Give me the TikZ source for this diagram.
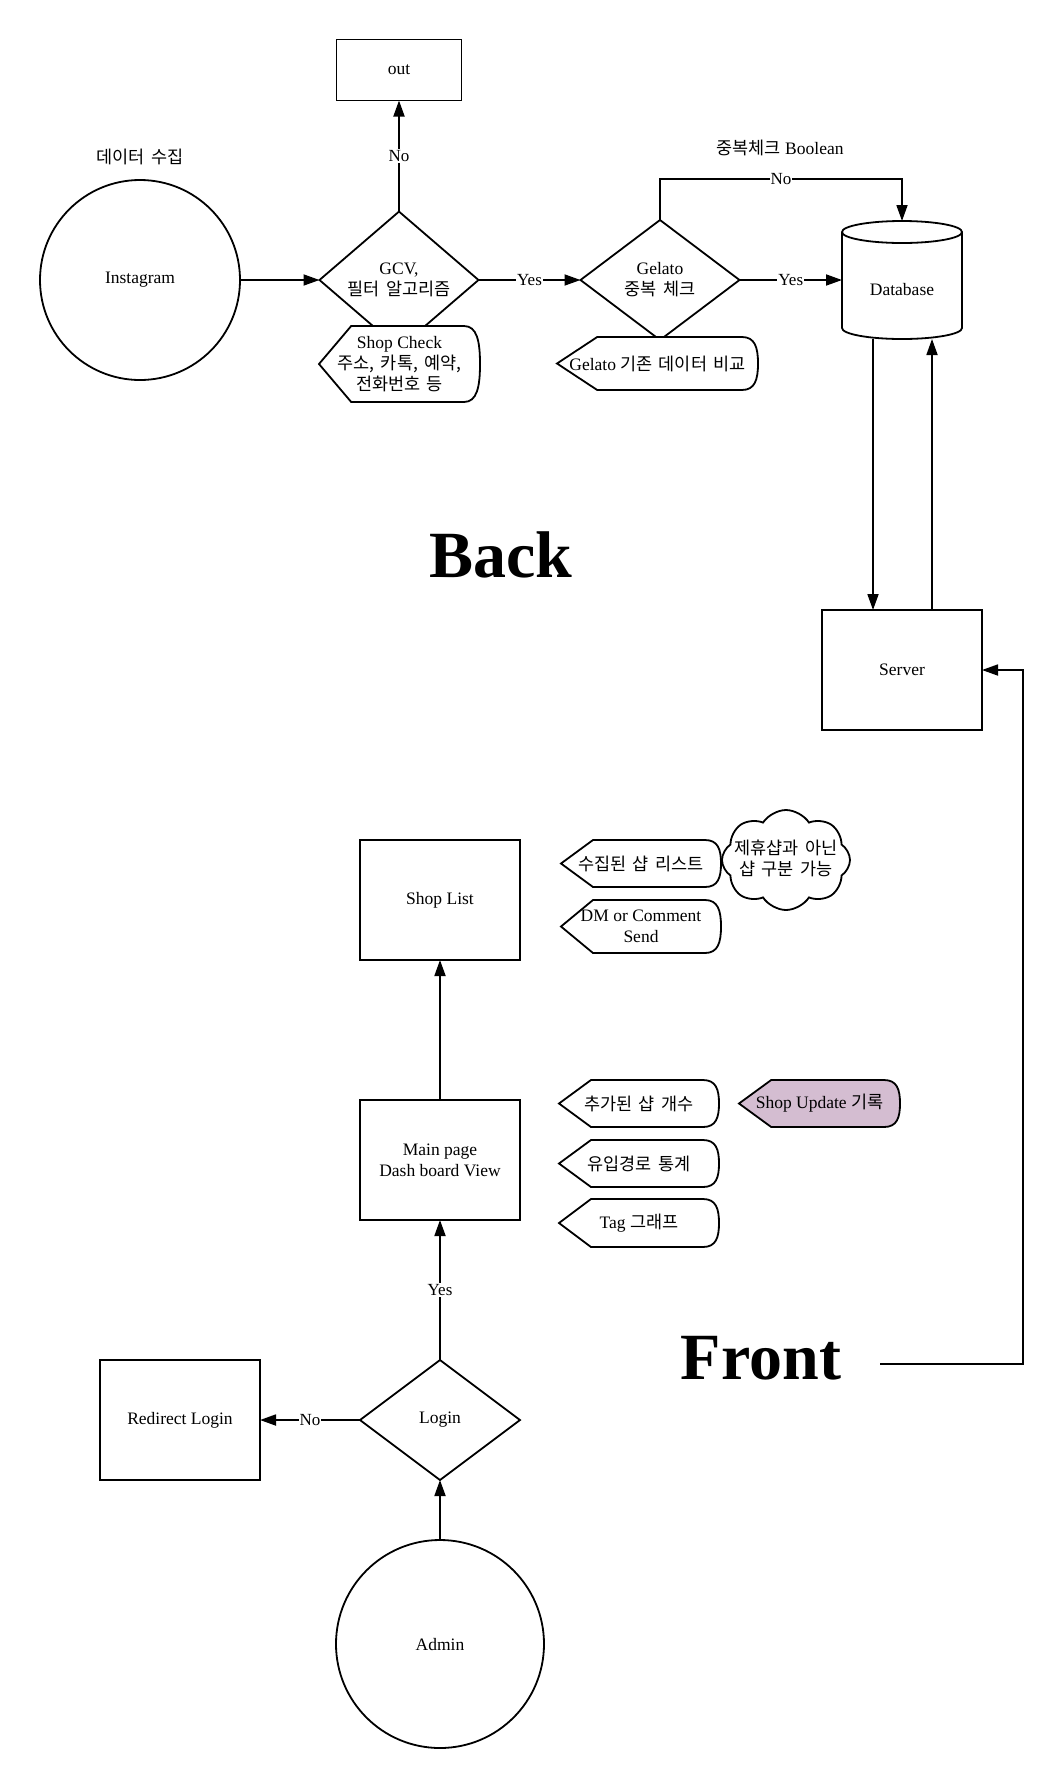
\documentclass[tikz,border=0pt]{standalone}
\usepackage{fontspec}
\setmainfont{Liberation Serif}
\newfontfamily\kr[WordSpace=1.6,Scale=1.0]{Noto Sans CJK KR}
\usetikzlibrary{arrows.meta,shapes.geometric,shapes.symbols}
\definecolor{updfill}{RGB}{212,189,209}
% display shape: [fill]{name}{left}{top}{right}{bottom}{text}
\newcommand\dispshape[7][white]{%
  \draw[shp, fill=#1] (#3,{(#4+#6)/2}) -- ({#3+0.2*(#5-#3)},#4) -- ({#5-16},#4)
    .. controls ({#5-3},#4) and (#5,{#4+0.2*(#6-#4)}) .. (#5,{(#4+#6)/2})
    .. controls (#5,{#6-0.2*(#6-#4)}) and ({#5-3},#6) .. ({#5-16},#6)
    -- ({#3+0.2*(#5-#3)},#6) -- cycle;
  \node[txt] (#2) at ({(#3+#5)/2},{(#4+#6)/2}) {#7};
}
\begin{document}
\begin{tikzpicture}[x=1pt,y=-1pt,
  shp/.style={draw=black, line width=1.8pt, line join=miter},
  txt/.style={font=\fontsize{17.5}{21}\selectfont, align=center, inner sep=0pt, outer sep=0pt},
  box/.style={shp, txt, rectangle, minimum width=160pt, minimum height=120pt},
  dia/.style={shp, txt, diamond},
  round/.style={shp, txt, circle},
  arr/.style={line width=1.8pt, -{Triangle[length=16pt,width=11pt]}},
  lbl/.style={fill=white, inner sep=1pt, font=\fontsize{17}{20}\selectfont},
  big/.style={font=\fontsize{66}{70}\selectfont\bfseries, inner sep=0pt}]
\useasboundingbox (0,0) rectangle (1063,1789);

% ---------- Back ----------
\node[box, minimum width=125pt, minimum height=61pt] (out) at (399,70) {out};
\node[txt] (lblcollect) at (140,157) {{\kr 데이터 수집}};
\node[round, minimum size=200pt] (insta) at (140,280) {Instagram};
\node[dia, minimum width=159pt, minimum height=118pt] (gcv) at (399,280) {GCV,\\{\kr 필터 알고리즘}};
\node[dia, minimum width=159pt, minimum height=120pt] (gel) at (660,280) {Gelato\\{\kr 중복 체크}};
\node[txt] (lblbool) at (780,148) {{\kr 중복체크} Boolean};

\dispshape{shopcheck}{319}{326}{480}{402}{Shop Check\\{\kr 주소, 카톡, 예약,}\\{\kr 전화번호 등}}
\dispshape{gelcmp}{557}{337}{758}{390}{Gelato {\kr 기존 데이터 비교}}

% database cylinder
\node[minimum width=120pt, minimum height=118pt, inner sep=0pt, outer sep=0pt] (db) at (902,280) {};
\draw[shp, fill=white] (842,232) -- (842,328)
  arc[start angle=180, end angle=360, x radius=60pt, y radius=11pt] -- (962,232)
  arc[start angle=0, end angle=180, x radius=60pt, y radius=11pt] -- cycle;
\draw[shp] (842,232) arc[start angle=180, end angle=360, x radius=60pt, y radius=11pt];
\node[txt] (dbtext) at (902,290) {Database};

\node[box] (server) at (902,670) {Server};
\node[big] (back) at (501,577) [anchor=base] {Back};

\draw[arr] (insta.east) -- (gcv.west);
\draw[arr] (gcv.north) -- node[lbl]{No} (out.south);
\draw[arr] (gcv.east) -- node[lbl]{Yes} (gel.west);
\draw[arr] (gel.east) -- node[lbl]{Yes} (gel.east -| db.west);
\draw[arr] (gel.north) -- ++(0,-41) -| node[lbl, pos=0.25]{No} (db.north);
\draw[arr] ([xshift=-29pt]db.south) -- ([xshift=-29pt]server.north);
\draw[arr] ([xshift=30pt]server.north) -- ([xshift=30pt]db.south);

% ---------- Front ----------
\node[box] (shoplist) at (440,900) {Shop List};
\node[box] (main) at (440,1160) {Main page\\Dash board View};
\node[dia, minimum width=160pt, minimum height=120pt] (login) at (440,1420) {Login};
\node[box] (redirect) at (180,1420) {Redirect Login};
\node[round, minimum size=208pt] (admin) at (440,1644) {Admin};

\dispshape{collected}{561}{840}{721}{887}{{\kr 수집된 샵 리스트}}
\dispshape{dm}{561}{900}{721}{953}{DM or Comment\\Send}
\node[cloud, shp, fill=white, cloud puffs=8, cloud puff arc=115, aspect=1.28,
      minimum width=128pt, minimum height=100pt, inner sep=0pt] (cloudshape) at (786,860) {};
\node[txt] (cloudtxt) at (786,858) {{\kr 제휴샵과 아닌}\\{\kr 샵 구분 가능}};

\dispshape{added}{559}{1080}{719}{1127}{{\kr 추가된 샵 개수}}
\dispshape{inflow}{559}{1140}{719}{1187}{{\kr 유입경로 통계}}
\dispshape{tag}{559}{1199}{719}{1247}{Tag {\kr 그래프}}
\dispshape[updfill]{update}{739}{1080}{900}{1127}{Shop Update {\kr 기록}}

\node[big] (front) at (761,1379) [anchor=base] {Front};
\coordinate (frontend) at (880,1364);

\draw[arr] (main.north) -- (shoplist.south);
\draw[arr] (login.north) -- node[lbl]{Yes} (main.south);
\draw[arr] (login.west) -- node[lbl]{No} (redirect.east);
\draw[arr] (admin.north) -- (login.south);
\draw[arr] (frontend) -| ([xshift=41pt]server.east) -- (server.east);
\end{tikzpicture}
\end{document}
